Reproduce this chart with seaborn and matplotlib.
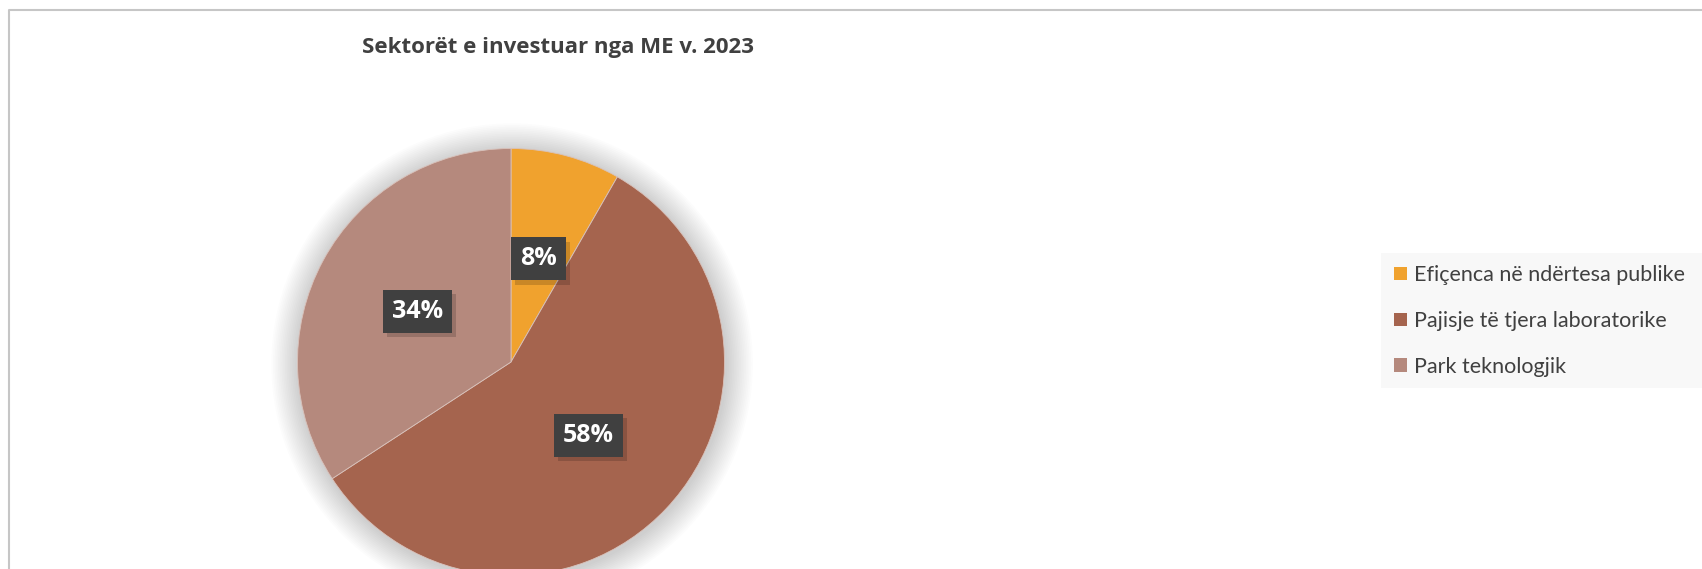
import matplotlib
matplotlib.use("Agg")
import numpy as np
import matplotlib.pyplot as plt
import matplotlib.patheffects as pe
import seaborn as sns
from matplotlib.patches import Patch, Circle, Rectangle
from matplotlib.lines import Line2D

# te dhenat
sektoret = ['Efiçenca në ndërtesa publike', 'Pajisje të tjera laboratorike', 'Park teknologjik']
perqindjet = [8.3, 57.5, 34.2]
ngjyrat = ['#F0A22E', '#A5644E', '#B5897D']

sns.set_theme(style="white")
plt.rcParams['font.family'] = ['Open Sans', 'DejaVu Sans']

W, H = 1702, 569
fig = plt.figure(figsize=(W / 100, H / 100), dpi=100)

# pie: qendra (511, 362) px, rrezja 213.5 px
cx, cy, r = 511, 362, 213.5
lim = 1.2
size = 2 * r * lim
ax = fig.add_axes([(cx - size / 2) / W, (H - cy - size / 2) / H, size / W, size / H])

wedges, _ = ax.pie(perqindjet, colors=ngjyrat, startangle=90, counterclock=False,
                   radius=1.0, wedgeprops=dict(linewidth=0.6, edgecolor='#d9c2bb'))
for w in wedges:
    w.set_zorder(2)
ax.set_xlim(-lim, lim)
ax.set_ylim(-lim, lim)
ax.set_aspect('equal')
ax.axis('off')

# hija e bute rreth pies
for k in range(16):
    ax.add_patch(Circle((0.005, -0.01), 1.0 + 0.008 * (k + 1), color='black',
                        alpha=0.013, lw=0, zorder=0))

# etiketat me kuti te erreta
cum = np.cumsum([0] + perqindjet) / sum(perqindjet)
for i, p in enumerate(perqindjet):
    mid = 90 - 360 * (cum[i] + cum[i + 1]) / 2
    x = 0.5 * np.cos(np.radians(mid))
    y = 0.5 * np.sin(np.radians(mid))
    t = ax.text(x, y, f'{round(p):.0f}%', ha='center', va='center', fontsize=18,
                fontweight='bold', color='white', zorder=4,
                bbox=dict(boxstyle='square,pad=0.36', fc='#404040', ec='none'))
    t.get_bbox_patch().set_path_effects([
        pe.SimplePatchShadow(offset=(3, -3), shadow_rgbFace='black', alpha=0.16),
        pe.Normal()])

# titulli
fig.text(558 / W, 1 - 47 / H, 'Sektorët e investuar nga ME v. 2023', ha='center', va='center',
         fontsize=16, fontweight='bold', color='#404040')

# sfondi i legjendes
fig.patches.append(Rectangle((1381 / W, 1 - 388 / H), (W - 1381) / W, 135 / H,
                             transform=fig.transFigure, fc='#f8f8f8', ec='none', zorder=0))
handles = [Patch(fc=c, ec='none') for c in ngjyrat]
fig.legend(handles, sektoret, loc='center left', bbox_to_anchor=(1383 / W, 1 - 321 / H),
           frameon=False, handlelength=0.6, handleheight=0.6, handletextpad=0.35,
           labelspacing=1.2, prop={'family': 'Lato', 'size': 15.5}, labelcolor='#404040',
           borderpad=0)

# korniza
fig.add_artist(Line2D([9 / W, 9 / W, 1], [0, 1 - 10 / H, 1 - 10 / H],
                      transform=fig.transFigure, color='#c6c6c6', lw=1.5))

fig.savefig('out.png', dpi=100)
